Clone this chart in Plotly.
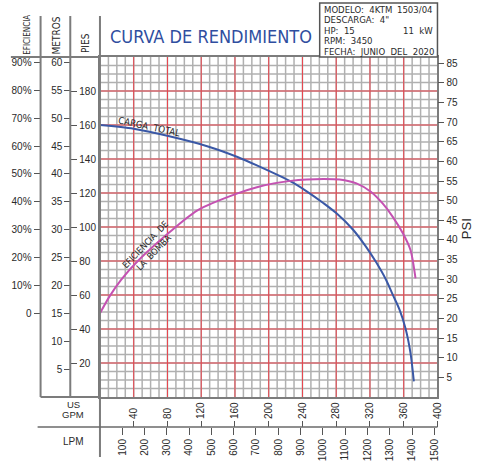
import plotly.graph_objects as go

W, H = 488, 467

# ---------------- data ----------------
head_gpm = [0, 40, 81, 128, 163, 186, 226, 245, 265, 280, 300, 315, 327, 339, 347, 355, 362, 368, 372]
head_ft = [160, 157.8, 153.5, 147.4, 141.2, 136.2, 126.8, 121, 114, 108.2, 98.4, 88.6, 79.5, 69, 60.2, 51.4, 40.6, 26, 9.2]

eff_gpm = [0, 11, 25, 46, 81, 116, 163, 186, 206, 226, 245, 265, 284, 304, 321, 335, 347, 359, 368, 374]
eff_pct = [0, 5.9, 12, 19.1, 28.7, 37, 43, 45.2, 46.6, 47.5, 48.0, 48.2, 48.0, 46.6, 43.6, 39.4, 34.6, 28.7, 22.7, 12.5]

gpm_ticks = list(range(40, 401, 40))
lpm_ticks = list(range(100, 1501, 100))
pies_ticks = list(range(20, 181, 20))
metros_ticks = list(range(5, 61, 5))
eff_ticks = list(range(0, 91, 10))
eff_labels = ["0"] + [f"{v}%" for v in eff_ticks[1:]]
psi_ticks = list(range(5, 86, 5))

info_lines = ["MODELO:  4KTM", "DESCARGA:  4\"", "HP:  15", "RPM:  3450", "FECHA:  JUNIO  DEL  2020"]
info_right = {0: "1503/04", 2: "11  kW"}

FT_MAX = 200
GPM_MAX = 400
M_PER_FT = 1 / 3.28084
PSI_PER_FT = 1 / 2.31
LPM_PER_GPM = 3.78541

# ---------------- geometry helpers ----------------
def px(x):
    return x / W

def py(y):
    return 1 - y / H

X0, X1, Y0, Y1 = 101, 442, 57, 397

BLUE = "#3a58a6"
PINK = "#c452b2"
RED = "#e8434c"
GRAY = "#b0b0b0"
DARK = "#7c7c7c"
TXT = "#2a2a2a"
FONT = "Liberation Sans, Arial, sans-serif"
NARROW = "DejaVu Sans Condensed, Liberation Sans, sans-serif"

fig = go.Figure()

# grid drawn through the data axes (gray every 10 GPM / 5 ft, red every 40 GPM / 20 ft)
shapes = []
for g in range(10, GPM_MAX, 10):
    shapes.append(dict(type="line", xref="x", yref="y", x0=g, x1=g, y0=0, y1=FT_MAX,
                       layer="below", line=dict(color=GRAY, width=1.5)))
for f in range(5, FT_MAX, 5):
    shapes.append(dict(type="line", xref="x", yref="y", x0=0, x1=GPM_MAX, y0=f, y1=f,
                       layer="below", line=dict(color=GRAY, width=1.5)))
for g in range(40, GPM_MAX, 40):
    shapes.append(dict(type="line", xref="x", yref="y", x0=g, x1=g, y0=0, y1=FT_MAX,
                       layer="below", line=dict(color=RED, width=1)))
for f in range(20, FT_MAX, 20):
    shapes.append(dict(type="line", xref="x", yref="y", x0=0, x1=GPM_MAX, y0=f, y1=f,
                       layer="below", line=dict(color=RED, width=1)))

fig.add_trace(go.Scatter(x=head_gpm, y=head_ft, mode="lines",
                         line=dict(color=BLUE, width=2, shape="spline", smoothing=0.8),
                         showlegend=False, hoverinfo="skip"))
fig.add_trace(go.Scatter(x=eff_gpm, y=eff_pct, mode="lines", yaxis="y3",
                         line=dict(color=PINK, width=2, shape="spline", smoothing=0.8),
                         showlegend=False, hoverinfo="skip"))
# invisible traces to activate auxiliary axes
for xa, ya in [("x2", "y"), ("x3", "y"), ("x", "y2"), ("x", "y4"), ("x", "y5")]:
    fig.add_trace(go.Scatter(x=[None], y=[None], xaxis=xa, yaxis=ya, mode="markers",
                             showlegend=False, hoverinfo="skip"))

tickfont = dict(family=FONT, size=10, color=TXT)

fig.update_layout(
    width=W, height=H, autosize=False,
    margin=dict(l=0, r=0, t=0, b=0),
    paper_bgcolor="white", plot_bgcolor="white",
    xaxis=dict(domain=[px(X0), px(X1)], range=[0, GPM_MAX],
               showgrid=False, showticklabels=False, ticks="", zeroline=False,
               showline=True, mirror=True, linecolor=DARK, linewidth=2),
    yaxis=dict(domain=[py(Y1), py(Y0)], range=[0, FT_MAX],
               showgrid=False, showticklabels=False, ticks="", zeroline=False,
               showline=True, mirror=True, linecolor=DARK, linewidth=2),
    xaxis2=dict(overlaying="x", anchor="free", position=py(427), side="top",
                range=[0, GPM_MAX], tickmode="array", tickvals=gpm_ticks,
                ticktext=[str(v) for v in gpm_ticks], tickangle=-90,
                ticks="outside", ticklen=6, tickcolor="#555", tickwidth=1,
                showgrid=False, zeroline=False, showline=False, tickfont=tickfont),
    xaxis3=dict(overlaying="x", anchor="free", position=py(427), side="bottom",
                range=[0, GPM_MAX * LPM_PER_GPM], tickmode="array", tickvals=lpm_ticks,
                ticktext=[str(v) for v in lpm_ticks], tickangle=-90,
                ticks="outside", ticklen=7, tickcolor="#555", tickwidth=1,
                showgrid=False, zeroline=False, showline=False, tickfont=tickfont),
    yaxis2=dict(overlaying="y", anchor="free", position=px(71), side="right",
                range=[0, FT_MAX], tickmode="array", tickvals=pies_ticks,
                ticks="outside", ticklen=6, tickcolor="#555", tickwidth=1,
                showgrid=False, zeroline=False, showline=False, tickfont=tickfont),
    yaxis3=dict(overlaying="y", anchor="free", position=px(41), side="left",
                range=[(0 - 15) * 2, (FT_MAX * M_PER_FT - 15) * 2],
                tickmode="array", tickvals=eff_ticks, ticktext=eff_labels,
                ticks="outside", ticklen=7, tickcolor="#555", tickwidth=1,
                showgrid=False, zeroline=False, showline=False, tickfont=tickfont),
    yaxis4=dict(overlaying="y", anchor="free", position=px(71), side="left",
                range=[0, FT_MAX * M_PER_FT], tickmode="array", tickvals=metros_ticks,
                ticks="outside", ticklen=6, tickcolor="#555", tickwidth=1,
                showgrid=False, zeroline=False, showline=False, tickfont=tickfont),
    yaxis5=dict(overlaying="y", anchor="free", position=px(X1), side="right",
                range=[0, FT_MAX * PSI_PER_FT], tickmode="array", tickvals=psi_ticks,
                ticks="outside", ticklen=6, tickcolor="#555", tickwidth=1,
                showgrid=False, zeroline=False, showline=False, tickfont=tickfont),
)

def line(x0, y0, x1, y1, color=DARK, width=2):
    shapes.append(dict(type="line", xref="paper", yref="paper",
                       x0=px(x0), y0=py(y0), x1=px(x1), y1=py(y1),
                       line=dict(color=color, width=width)))

line(41, 16, 41, Y1)
line(71, 16, 71, Y1)
line(X0, 16, X0, 457)
line(11, Y0, X0, Y0)
line(41, Y1, X0, Y1)
line(38, 427, X1, 427, color="#6a6a6a", width=1.5)
shapes.append(dict(type="rect", xref="paper", yref="paper",
                   x0=px(323), y0=py(3), x1=px(X1), y1=py(Y0),
                   line=dict(color="#555", width=1.5), fillcolor="white"))
fig.update_layout(shapes=shapes)

ann = []
def text(x, y, s, size=10, family=FONT, color=TXT, angle=0, xanchor="center", yanchor="middle"):
    ann.append(dict(x=px(x), y=py(y), xref="paper", yref="paper", text=s, showarrow=False,
                    font=dict(family=family, size=size, color=color), textangle=angle,
                    xanchor=xanchor, yanchor=yanchor))

text(109, 36, "CURVA DE RENDIMIENTO", size=18, family=NARROW, color="#2f4e9f", xanchor="left")
info_y = [9, 19.5, 30, 40.5, 51]
for i, s in enumerate(info_lines):
    text(325, info_y[i], s, size=9.5, family=NARROW, xanchor="left")
for i, s in info_right.items():
    text(440, info_y[i], s, size=9.5, family=NARROW, xanchor="right")

text(27, 35, "EFICIENCIA", size=8, family=NARROW, angle=-90)
text(57, 35, "METROS", size=10, family=NARROW, angle=-90)
text(86, 43, "PIES", size=10, family=NARROW, angle=-90)
text(74, 404, "US", size=9.5)
text(74, 414, "GPM", size=9.5)
text(74, 441, "LPM", size=10)
text(472, 229, "PSI", size=13, angle=-90)

text(151, 126, "CARGA  TOTAL", size=9.5, family=NARROW, angle=12)
text(151, 249, "EFICIENCIA  DE<br>LA  BOMBA", size=9, family=NARROW, angle=-46)

fig.update_layout(annotations=ann)

fig.write_html("out.html")
